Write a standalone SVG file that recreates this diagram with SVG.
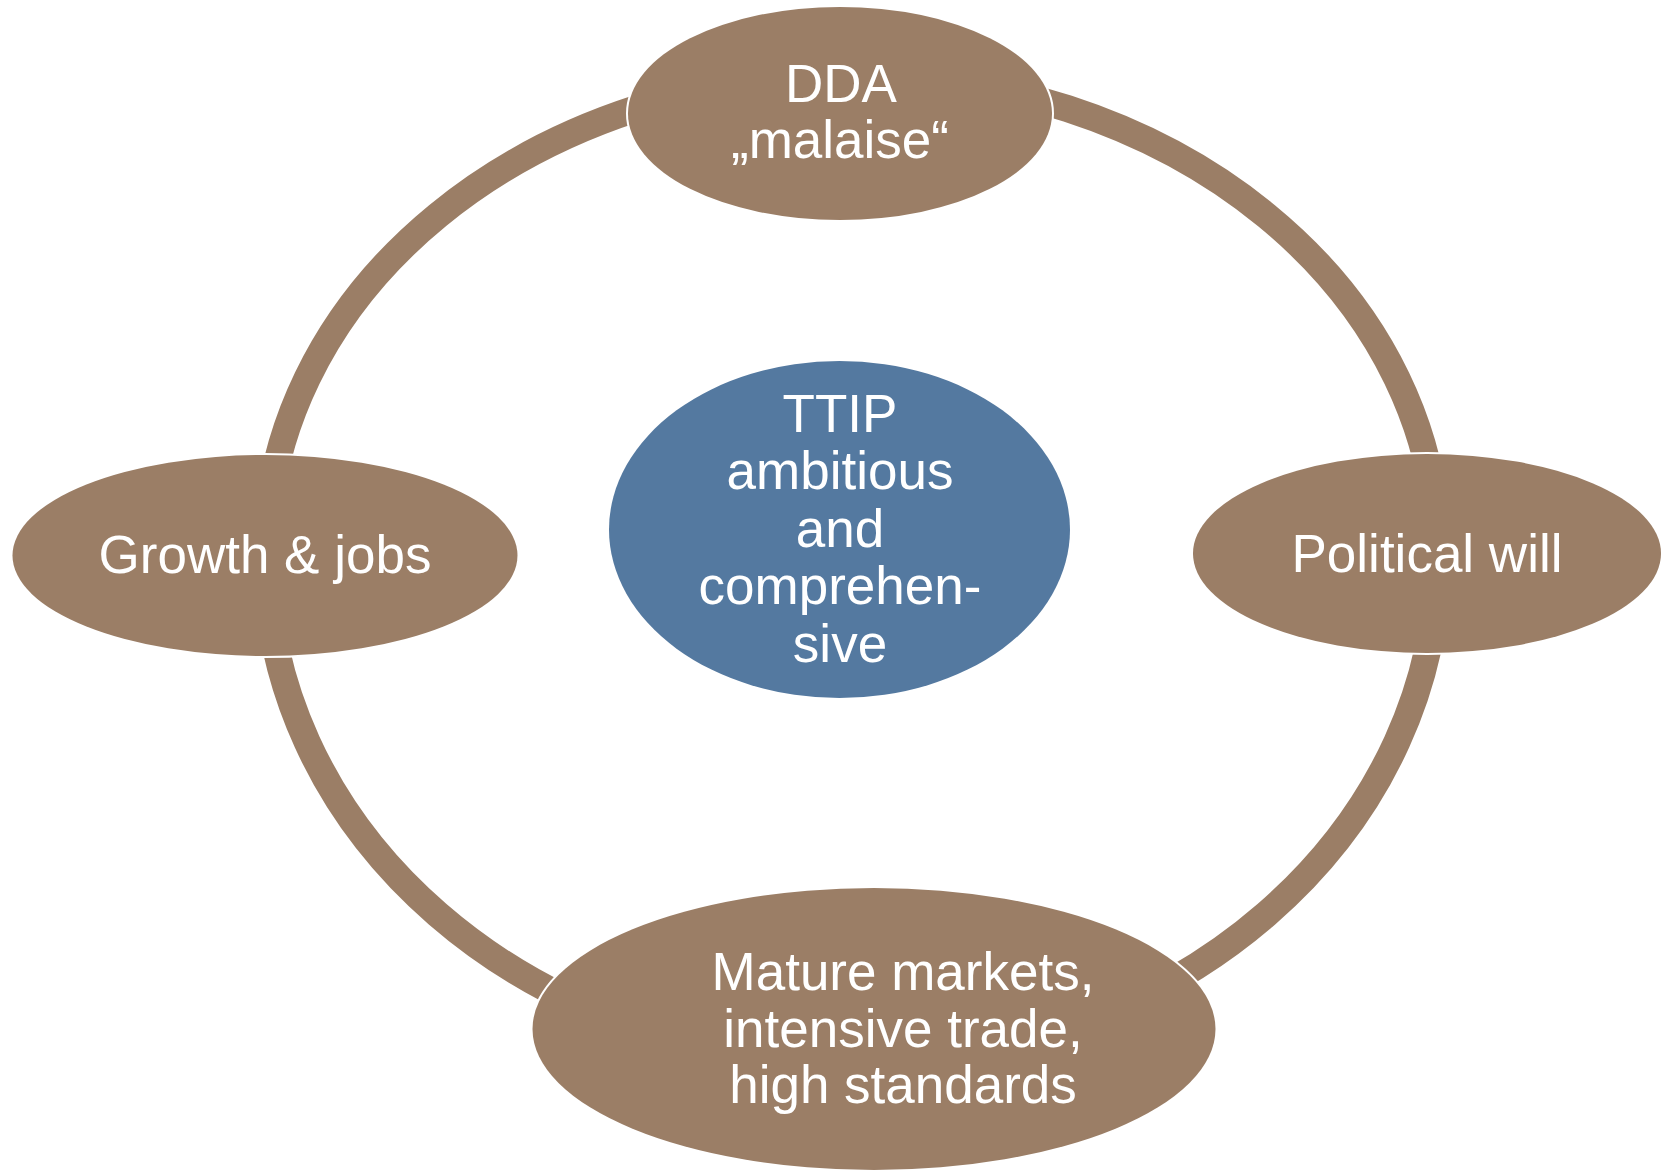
<svg xmlns="http://www.w3.org/2000/svg" width="1669" height="1170" viewBox="0 0 1669 1170">
  <style>
    .ring { fill: none; stroke: #9b7e66; stroke-width: 27; }
    .node { fill: #9b7e66; stroke: #ffffff; stroke-width: 4; paint-order: stroke; }
    .core { fill: #5479a0; }
    .label { font-family: "Liberation Sans", Arial, sans-serif; font-size: 53px; fill: #ffffff; text-anchor: middle; }
  </style>
  <rect width="1669" height="1170" fill="#ffffff"/>

  <!-- cycle connectors: quarter arcs of the ring, ends hidden under the nodes -->
  <g id="connectors">
    <path class="ring" d="M 852,75 A 586 480 0 0 1 1438,555"/>
    <path class="ring" d="M 1438,555 A 586 508 0 0 1 852,1063"/>
    <path class="ring" d="M 852,1063 A 586 508 0 0 1 266,555"/>
    <path class="ring" d="M 266,555 A 586 480 0 0 1 852,75"/>
  </g>

  <g id="node-dda">
    <ellipse class="node" cx="840" cy="113.5" rx="212" ry="106.5"/>
    <text class="label"><tspan x="841" y="102">DDA</tspan><tspan x="840" y="158">„malaise“</tspan></text>
  </g>

  <g id="node-political-will">
    <ellipse class="node" cx="1427" cy="553.5" rx="234" ry="99.5"/>
    <text class="label" x="1427" y="572">Political will</text>
  </g>

  <g id="node-markets">
    <ellipse class="node" cx="874" cy="1029" rx="341.5" ry="141"/>
    <text class="label"><tspan x="903" y="990">Mature markets,</tspan><tspan x="903" y="1047">intensive trade,</tspan><tspan x="903" y="1103">high standards</tspan></text>
  </g>

  <g id="node-growth">
    <ellipse class="node" cx="265" cy="555.5" rx="252.5" ry="100.5"/>
    <text class="label" x="265" y="573">Growth &amp; jobs</text>
  </g>

  <g id="node-ttip">
    <ellipse class="core" cx="839.5" cy="529.5" rx="230.5" ry="168.5"/>
    <text class="label"><tspan x="840" y="432">TTIP</tspan><tspan x="840" y="489">ambitious</tspan><tspan x="840" y="547">and</tspan><tspan x="840" y="604">comprehen-</tspan><tspan x="840" y="662">sive</tspan></text>
  </g>
</svg>
